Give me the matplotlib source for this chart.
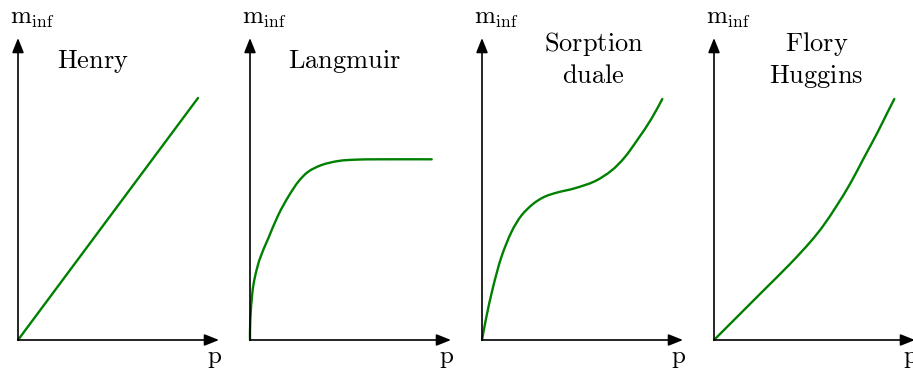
import numpy as np
import matplotlib
matplotlib.use("Agg")
import matplotlib.pyplot as plt
from matplotlib.path import Path
from matplotlib.patches import PathPatch

plt.rcParams['mathtext.fontset'] = 'cm'
plt.rcParams['font.family'] = 'serif'

# curve data (p, m_inf) in arbitrary units per panel
titles = [['Henry'], ['Langmuir'], ['Sorption', 'duale'], ['Flory', 'Huggins']]

henry_p = [0, 180]
henry_m = [0, 242]

langmuir_p = [0, 0.3, 2.3, 5, 10, 18.3, 28.3, 38.3, 48.3, 58.3, 71.7, 88.3, 105, 130, 181.7]
langmuir_m = [0, 20, 46.7, 63.3, 81.7, 101.7, 125, 143.3, 158.3, 168.3, 175, 179, 180.3, 180.7, 180.7]

duale_p = [0, 4.3, 11, 19.3, 29.3, 39.3, 51, 62.7, 76, 92.7, 112.7, 129.3, 142.7, 156, 169.3, 180.3]
duale_m = [0, 22.7, 52.7, 82.7, 107.7, 124.3, 136, 143.3, 147.7, 151.7, 158.7, 169.3, 182.7, 201, 221, 241]

flory_p = [0, 22.7, 49.3, 76, 96, 109.3, 122.7, 136, 149.3, 162.7, 172.7, 180.3]
flory_m = [0, 22.7, 49.3, 76, 97.7, 114.3, 134.3, 156, 181, 206, 226, 241]

curves = [(henry_p, henry_m), (langmuir_p, langmuir_m),
          (duale_p, duale_m), (flory_p, flory_m)]

W, H = 913, 376
origins_x = [18, 250, 482, 714]
origin_y = 36  # from the bottom
title_x = [75, 94.5, 111.5, 102.5]
green = '#008000'


def smooth_path(xs, ys):
    # Catmull-Rom through the read points, drawn as cubic Bezier segments
    pts = np.column_stack([xs, ys]).astype(float)
    if len(pts) < 3:
        return Path(pts)
    verts = [pts[0]]
    codes = [Path.MOVETO]
    for k in range(len(pts) - 1):
        p0 = pts[k - 1] if k > 0 else pts[k]
        p1, p2 = pts[k], pts[k + 1]
        p3 = pts[k + 2] if k + 2 < len(pts) else pts[k + 1]
        verts += [p1 + (p2 - p0) / 6, p2 - (p3 - p1) / 6, p2]
        codes += [Path.CURVE4] * 3
    return Path(verts, codes)


fig = plt.figure(figsize=(W / 100, H / 100), dpi=100)

for i in range(4):
    ax = fig.add_axes([(origins_x[i] - 18) / W, 0, 232 / W, 1])
    ax.set_xlim(-18, 214)
    ax.set_ylim(-origin_y, H - origin_y)
    ax.axis('off')

    # axes arrows
    arr = dict(arrowstyle='-|>,head_length=0.55,head_width=0.22', color='black',
               lw=1.2, shrinkA=0, shrinkB=0, mutation_scale=16)
    ax.annotate('', xy=(201, 0), xytext=(0, 0), arrowprops=arr)
    ax.annotate('', xy=(0, 302), xytext=(0, 0), arrowprops=arr)

    patch = PathPatch(smooth_path(*curves[i]), facecolor='none', edgecolor=green,
                      lw=1.7, capstyle='round', joinstyle='round', clip_on=False)
    ax.add_patch(patch)

    ax.text(-8, 310, r'$\mathrm{m}_{\mathrm{inf}}$', fontsize=18, ha='left', va='bottom')
    ax.text(197, -19, r'$\mathrm{p}$', fontsize=18, ha='center', va='center')

    lines = titles[i]
    ys = [282] if len(lines) == 1 else [300, 267]
    for line, ty in zip(lines, ys):
        ax.text(title_x[i], ty, r'$\mathrm{%s}$' % line, fontsize=19,
                ha='center', va='center_baseline')

fig.savefig('out.png', dpi=100)
